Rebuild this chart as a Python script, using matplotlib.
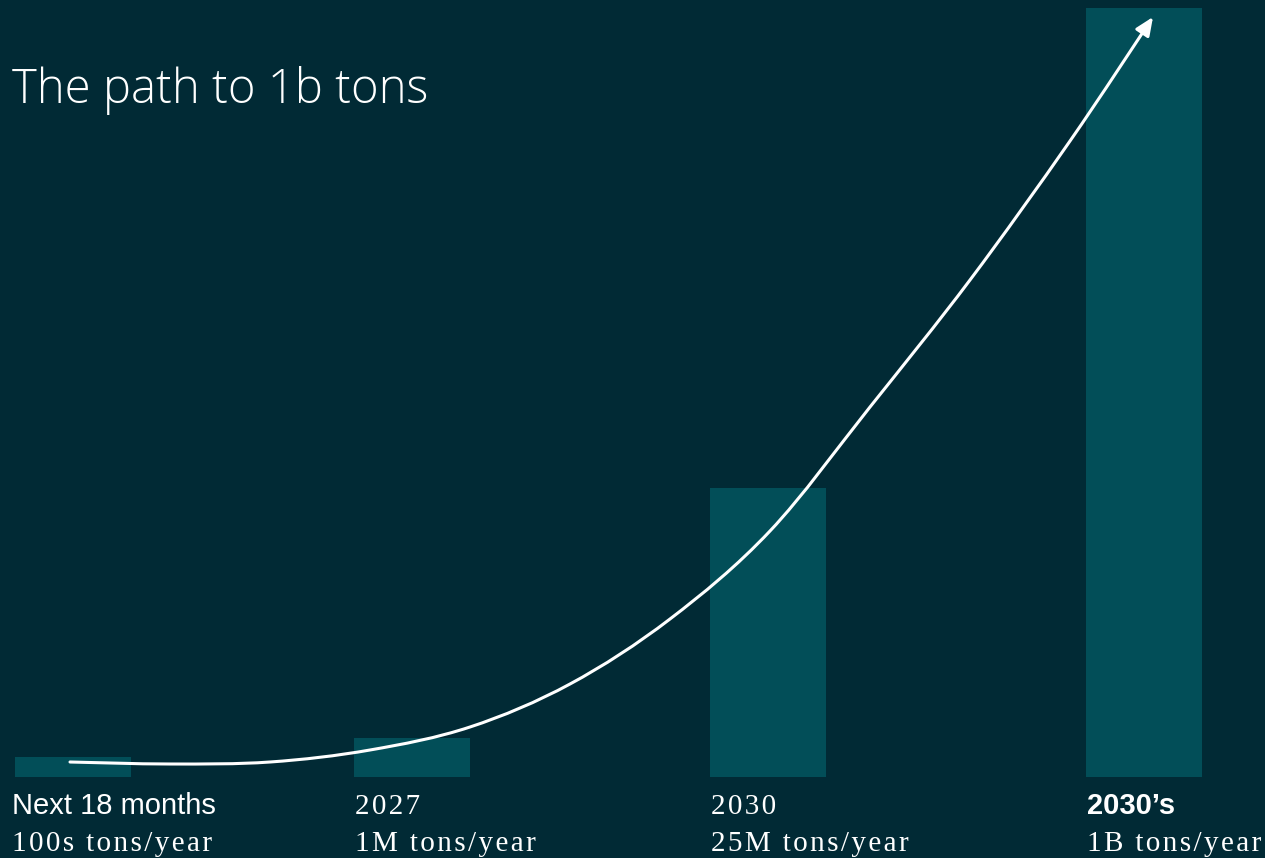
import matplotlib.pyplot as plt
from matplotlib.patches import FancyArrowPatch
from matplotlib.path import Path

BG = "#012a35"
BAR = "#024e58"

# categories and bar values (visual heights, in chart units)
periods = ["Next 18 months", "2027", "2030", "2030\u2019s"]
volumes = ["100s tons/year", "1M tons/year", "25M tons/year", "1B tons/year"]
x_pos = [73, 412, 768, 1144]
heights = [20, 39, 289, 769]

# growth curve through the bars (chart units)
curve_x = [70, 170, 270, 370, 470, 570, 670, 770, 870, 970, 1070, 1153]
curve_y = [15, 13, 15, 27, 50, 93, 158, 246, 370, 497, 636, 760]

fig = plt.figure(figsize=(12.65, 8.58), dpi=100, facecolor=BG)
ax = fig.add_axes([0, 81 / 858, 1, 777 / 858])
ax.set_facecolor(BG)
ax.set_xlim(0, 1265)
ax.set_ylim(0, 777)
ax.axis("off")

ax.bar(x_pos, heights, width=116, color=BAR, zorder=1)

# smooth line through the curve points (Catmull-Rom -> cubic bezier)
pts = list(zip(curve_x, curve_y))
verts = [pts[0]]
codes = [Path.MOVETO]
for i in range(len(pts) - 1):
    p0 = pts[i - 1] if i > 0 else pts[i]
    p1 = pts[i]
    p2 = pts[i + 1]
    p3 = pts[i + 2] if i + 2 < len(pts) else pts[i + 1]
    c1 = (p1[0] + (p2[0] - p0[0]) / 6, p1[1] + (p2[1] - p0[1]) / 6)
    c2 = (p2[0] - (p3[0] - p1[0]) / 6, p2[1] - (p3[1] - p1[1]) / 6)
    verts += [c1, c2, p2]
    codes += [Path.CURVE4] * 3
arrow = FancyArrowPatch(path=Path(verts, codes),
                        arrowstyle="-|>,head_length=5.5,head_width=2.4",
                        color="white", lw=2.2, zorder=3, mutation_scale=2,
                        shrinkA=0, shrinkB=0)
ax.add_patch(arrow)

fig.text(12 / 1265, 1 - 103 / 858, "The path to 1b tons", color="white",
         fontsize=34, family="Open Sans", weight="light", va="baseline")

HAIR = "\u200a"
for i, (p, v) in enumerate(zip(periods, volumes)):
    left = (x_pos[i] - 57) / 1265
    if i == 0:
        left = 12 / 1265
    if i in (0, 3):
        fig.text(left, 1 - 814 / 858, p, color="white", fontsize=21,
                 family="Liberation Sans", weight="bold" if i == 3 else "normal",
                 va="baseline")
    else:
        fig.text(left, 1 - 814 / 858, HAIR.join(p), color="white", fontsize=21,
                 family="Liberation Serif", va="baseline")
    fig.text(left, 1 - 851 / 858, HAIR.join(v), color="white", fontsize=21,
             family="Liberation Serif", va="baseline")

fig.savefig("out.png", dpi=100, facecolor=BG)
